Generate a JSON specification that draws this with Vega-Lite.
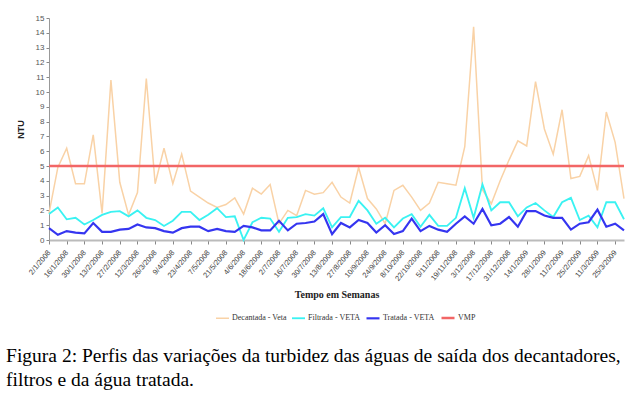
{
  "$schema": "https://vega.github.io/schema/vega-lite/v6.json",
  "width": 575,
  "height": 222,
  "autosize": {"type": "none"},
  "padding": {"left": 49, "top": 18, "right": 16, "bottom": 160},
  "background": "white",
  "title": {
    "text": ["\u2002Figura 2: Perfis das variações da turbidez das águas de saída dos decantadores,", "filtros e da água tratada."],
    "orient": "bottom",
    "anchor": "start",
    "font": "Liberation Serif",
    "fontSize": 19.5,
    "fontWeight": "normal",
    "color": "#000000",
    "lineHeight": 24,
    "dx": -10,
    "offset": 24
  },
  "data": {
    "values": [
      {"d": "2/1/2008", "dec": 1.8, "fil": 1.75, "tra": 0.8, "vmp": 5},
      {"d": "9/1/2008", "dec": 4.9, "fil": 2.2, "tra": 0.35, "vmp": 5},
      {"d": "16/1/2008", "dec": 6.2, "fil": 1.4, "tra": 0.6, "vmp": 5},
      {"d": "23/1/2008", "dec": 3.8, "fil": 1.5, "tra": 0.5, "vmp": 5},
      {"d": "30/1/2008", "dec": 3.8, "fil": 1.05, "tra": 0.45, "vmp": 5},
      {"d": "6/2/2008", "dec": 7.1, "fil": 1.35, "tra": 1.15, "vmp": 5},
      {"d": "13/2/2008", "dec": 1.8, "fil": 1.7, "tra": 0.55, "vmp": 5},
      {"d": "20/2/2008", "dec": 10.8, "fil": 1.9, "tra": 0.55, "vmp": 5},
      {"d": "27/2/2008", "dec": 3.9, "fil": 1.95, "tra": 0.7, "vmp": 5},
      {"d": "5/3/2008", "dec": 1.7, "fil": 1.6, "tra": 0.75, "vmp": 5},
      {"d": "12/3/2008", "dec": 3.2, "fil": 2.0, "tra": 1.05, "vmp": 5},
      {"d": "19/3/2008", "dec": 10.9, "fil": 1.5, "tra": 0.85, "vmp": 5},
      {"d": "26/3/2008", "dec": 3.8, "fil": 1.35, "tra": 0.8, "vmp": 5},
      {"d": "2/4/2008", "dec": 6.2, "fil": 0.95, "tra": 0.6, "vmp": 5},
      {"d": "9/4/2008", "dec": 3.8, "fil": 1.3, "tra": 0.5, "vmp": 5},
      {"d": "16/4/2008", "dec": 5.8, "fil": 1.9, "tra": 0.8, "vmp": 5},
      {"d": "23/4/2008", "dec": 3.3, "fil": 1.9, "tra": 0.9, "vmp": 5},
      {"d": "30/4/2008", "dec": 2.9, "fil": 1.35, "tra": 0.9, "vmp": 5},
      {"d": "7/5/2008", "dec": 2.5, "fil": 1.7, "tra": 0.6, "vmp": 5},
      {"d": "14/5/2008", "dec": 2.2, "fil": 2.15, "tra": 0.75, "vmp": 5},
      {"d": "21/5/2008", "dec": 2.4, "fil": 1.55, "tra": 0.6, "vmp": 5},
      {"d": "28/5/2008", "dec": 2.85, "fil": 1.6, "tra": 0.55, "vmp": 5},
      {"d": "4/6/2008", "dec": 1.75, "fil": 0.0, "tra": 0.95, "vmp": 5},
      {"d": "11/6/2008", "dec": 3.5, "fil": 1.2, "tra": 0.85, "vmp": 5},
      {"d": "18/6/2008", "dec": 3.1, "fil": 1.5, "tra": 0.65, "vmp": 5},
      {"d": "25/6/2008", "dec": 3.75, "fil": 1.45, "tra": 0.65, "vmp": 5},
      {"d": "2/7/2008", "dec": 1.1, "fil": 0.55, "tra": 1.3, "vmp": 5},
      {"d": "9/7/2008", "dec": 2.0, "fil": 1.5, "tra": 0.65, "vmp": 5},
      {"d": "16/7/2008", "dec": 1.65, "fil": 1.55, "tra": 1.1, "vmp": 5},
      {"d": "23/7/2008", "dec": 3.35, "fil": 1.75, "tra": 1.15, "vmp": 5},
      {"d": "30/7/2008", "dec": 3.1, "fil": 1.65, "tra": 1.25, "vmp": 5},
      {"d": "6/8/2008", "dec": 3.2, "fil": 2.15, "tra": 1.75, "vmp": 5},
      {"d": "13/8/2008", "dec": 3.9, "fil": 0.85, "tra": 0.4, "vmp": 5},
      {"d": "20/8/2008", "dec": 2.9, "fil": 1.55, "tra": 1.15, "vmp": 5},
      {"d": "27/8/2008", "dec": 2.5, "fil": 1.55, "tra": 0.85, "vmp": 5},
      {"d": "3/9/2008", "dec": 4.9, "fil": 2.65, "tra": 1.35, "vmp": 5},
      {"d": "10/9/2008", "dec": 2.8, "fil": 2.0, "tra": 1.15, "vmp": 5},
      {"d": "17/9/2008", "dec": 2.1, "fil": 1.1, "tra": 0.5, "vmp": 5},
      {"d": "24/9/2008", "dec": 1.1, "fil": 1.5, "tra": 1.0, "vmp": 5},
      {"d": "1/10/2008", "dec": 3.35, "fil": 0.85, "tra": 0.4, "vmp": 5},
      {"d": "8/10/2008", "dec": 3.7, "fil": 1.45, "tra": 0.6, "vmp": 5},
      {"d": "15/10/2008", "dec": 2.9, "fil": 1.75, "tra": 1.45, "vmp": 5},
      {"d": "22/10/2008", "dec": 2.0, "fil": 0.9, "tra": 0.6, "vmp": 5},
      {"d": "29/10/2008", "dec": 2.5, "fil": 1.7, "tra": 0.95, "vmp": 5},
      {"d": "5/11/2008", "dec": 3.9, "fil": 0.95, "tra": 0.7, "vmp": 5},
      {"d": "12/11/2008", "dec": 3.8, "fil": 0.95, "tra": 0.55, "vmp": 5},
      {"d": "19/11/2008", "dec": 3.7, "fil": 1.5, "tra": 1.1, "vmp": 5},
      {"d": "26/11/2008", "dec": 6.3, "fil": 3.5, "tra": 1.6, "vmp": 5},
      {"d": "3/12/2008", "dec": 14.4, "fil": 1.5, "tra": 1.1, "vmp": 5},
      {"d": "10/12/2008", "dec": 3.4, "fil": 3.75, "tra": 2.1, "vmp": 5},
      {"d": "17/12/2008", "dec": 2.45, "fil": 2.0, "tra": 1.0, "vmp": 5},
      {"d": "24/12/2008", "dec": 4.0, "fil": 2.55, "tra": 1.1, "vmp": 5},
      {"d": "31/12/2008", "dec": 5.4, "fil": 2.55, "tra": 1.55, "vmp": 5},
      {"d": "7/1/2009", "dec": 6.7, "fil": 1.6, "tra": 0.9, "vmp": 5},
      {"d": "14/1/2009", "dec": 6.35, "fil": 2.2, "tra": 1.95, "vmp": 5},
      {"d": "21/1/2009", "dec": 10.7, "fil": 2.5, "tra": 1.95, "vmp": 5},
      {"d": "28/1/2009", "dec": 7.5, "fil": 2.0, "tra": 1.65, "vmp": 5},
      {"d": "4/2/2009", "dec": 5.8, "fil": 1.55, "tra": 1.5, "vmp": 5},
      {"d": "11/2/2009", "dec": 8.8, "fil": 2.55, "tra": 1.5, "vmp": 5},
      {"d": "18/2/2009", "dec": 4.15, "fil": 2.85, "tra": 0.7, "vmp": 5},
      {"d": "25/2/2009", "dec": 4.3, "fil": 1.35, "tra": 1.1, "vmp": 5},
      {"d": "4/3/2009", "dec": 5.7, "fil": 1.65, "tra": 1.2, "vmp": 5},
      {"d": "11/3/2009", "dec": 3.35, "fil": 0.85, "tra": 2.05, "vmp": 5},
      {"d": "18/3/2009", "dec": 8.65, "fil": 2.55, "tra": 0.9, "vmp": 5},
      {"d": "25/3/2009", "dec": 6.6, "fil": 2.55, "tra": 1.1, "vmp": 5},
      {"d": "1/4/2009", "dec": 2.8, "fil": 1.4, "tra": 0.65, "vmp": 5}
    ]
  },
  "transform": [{"fold": ["dec", "fil", "tra", "vmp"], "as": ["serie", "ntu"]}],
  "mark": {"type": "line", "interpolate": "linear"},
  "encoding": {
    "x": {
      "field": "d",
      "type": "ordinal",
      "sort": null,
      "scale": {"type": "point", "padding": 0},
      "axis": {
        "title": "Tempo em Semanas",
        "titleFont": "Liberation Serif",
        "titleFontWeight": "bold",
        "titleFontSize": 10,
        "titleColor": "#222222",
        "titlePadding": 7,
        "values": ["2/1/2008","16/1/2008","30/1/2008","13/2/2008","27/2/2008","12/3/2008","26/3/2008","9/4/2008","23/4/2008","7/5/2008","21/5/2008","4/6/2008","18/6/2008","2/7/2008","16/7/2008","30/7/2008","13/8/2008","27/8/2008","10/9/2008","24/9/2008","8/10/2008","22/10/2008","5/11/2008","19/11/2008","3/12/2008","17/12/2008","31/12/2008","14/1/2009","28/1/2009","11/2/2009","25/2/2009","11/3/2009","25/3/2009"],
        "labelAngle": -50,
        "labelFont": "Liberation Sans",
        "labelFontSize": 7.5,
        "labelColor": "#444444",
        "labelPadding": 7,
        "tickSize": 4,
        "tickColor": "#888888",
        "domainColor": "#BBBBBB",
        "domainWidth": 2,
        "grid": false
      }
    },
    "y": {
      "field": "ntu",
      "type": "quantitative",
      "scale": {"domain": [0, 15], "nice": false},
      "axis": {
        "title": "NTU",
        "titleFont": "Liberation Sans",
        "titleFontWeight": "bold",
        "titleFontSize": 9,
        "titleColor": "#222222",
        "titlePadding": 10,
        "values": [0,1,2,3,4,5,6,7,8,9,10,11,12,13,14,15],
        "labelFont": "Liberation Sans",
        "labelFontSize": 8,
        "labelColor": "#555555",
        "labelPadding": 2,
        "tickSize": 3,
        "tickColor": "#888888",
        "domainColor": "#999999",
        "grid": false
      }
    },
    "color": {
      "field": "serie",
      "type": "nominal",
      "scale": {
        "domain": ["dec", "fil", "tra", "vmp"],
        "range": ["#F9D2A6", "#3AF2F2", "#3535F0", "#F26666"]
      },
      "legend": {
        "title": null,
        "orient": "none",
        "direction": "horizontal",
        "legendX": 166,
        "legendY": 292,
        "symbolType": "stroke",
        "symbolSize": 169,
        "symbolStrokeWidth": 2.5,
        "labelFont": "Liberation Serif",
        "labelFontSize": 8,
        "labelColor": "#333333",
        "labelOffset": 2,
        "columnPadding": 1,
        "labelExpr": "{'dec':'Decantada - Veta','fil':'Filtrada - VETA','tra':'Tratada - VETA','vmp':'VMP'}[datum.label]"
      }
    },
    "strokeWidth": {
      "field": "serie",
      "type": "nominal",
      "scale": {"domain": ["dec", "fil", "tra", "vmp"], "range": [1.5, 2.5, 2, 3.5]},
      "legend": null
    }
  },
  "config": {"view": {"stroke": null}}
}
